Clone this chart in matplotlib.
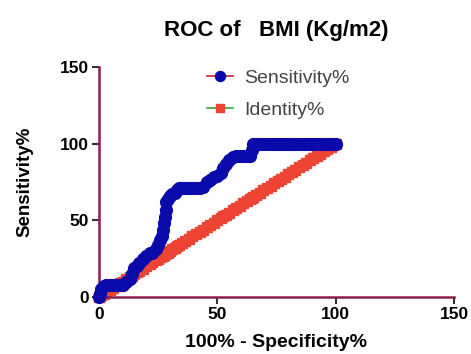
import matplotlib
matplotlib.use("Agg")
import matplotlib.pyplot as plt

plt.rcParams['font.family'] = ['Liberation Sans', 'DejaVu Sans']

# 100% - Specificity% and Sensitivity%
fpr = [0, 0.5, 1, 2, 3, 4.5, 6, 7.5, 9, 10, 11.5, 13, 14, 15, 16, 17, 18.5, 20, 21.5,
       22.5, 24, 25, 26, 26.5, 27, 27.5, 28, 28.5, 28.5, 29, 30, 31, 32, 33, 34,
       35, 36.5, 38, 39.5, 41, 42.5, 44, 45.5, 47, 48.5, 50, 51.5, 52.5, 53.5, 55,
       56.5, 58, 59.5, 61, 62.5, 64, 64.5, 65, 66.5, 68, 69.5, 71, 72.5, 74, 75.5,
       77, 78.5, 80, 81.5, 83, 84.5, 86, 87.5, 89, 90.5, 92, 93.5, 95, 96.5, 98,
       99, 100]
sens = [0, 2, 5, 7, 8, 8, 8, 8, 8, 8, 10, 12, 15, 19, 20, 22, 25, 27, 29,
        29, 31, 34, 37, 40, 44, 48, 52, 57, 62, 64, 66, 67, 68, 70, 71,
        71, 71, 71, 71, 71, 71, 72, 75, 76, 78, 79, 81, 84, 87, 89,
        91, 92, 92, 92, 92, 92, 96, 100, 100, 100, 100, 100, 100, 100, 100,
        100, 100, 100, 100, 100, 100, 100, 100, 100, 100, 100, 100, 100, 100, 100,
        100, 100]
identity = list(fpr)

xticks = [0, 50, 100, 150]
yticks = [0, 50, 100, 150]

fig = plt.figure(figsize=(4.71, 3.54), dpi=100)
ax = fig.add_axes([0.210, 0.161, 0.754, 0.650])

ax.plot(fpr, identity, color='#33aa33', lw=1.2, marker='s', ms=7.5,
        mfc='#ee4433', mec='#ee4433', label='Identity%', zorder=2)
ax.plot(fpr, sens, color='#cc2222', lw=1.2, marker='o', ms=8.5,
        mfc='#0a0aaa', mec='#0a0aaa', label='Sensitivity%', zorder=3)

ax.set_xlim(0, 150)
ax.set_ylim(0, 150)
ax.set_xticks(xticks)
ax.set_yticks(yticks)
for lbl in ax.get_xticklabels() + ax.get_yticklabels():
    lbl.set_fontweight('bold')
    lbl.set_fontsize(12.5)
ax.tick_params(direction='out', length=5, width=1.5, color='#333333', pad=2)

spine_col = '#8a1f50'
for s in ['top', 'right']:
    ax.spines[s].set_visible(False)
for s in ['left', 'bottom']:
    ax.spines[s].set_color(spine_col)
    ax.spines[s].set_linewidth(1.8)

for l in ax.lines:
    l.set_clip_on(False)

ax.set_xlabel('100% - Specificity%', fontsize=14, fontweight='bold', labelpad=9)
ax.set_ylabel('Sensitivity%', fontsize=13.5, fontweight='bold', labelpad=19)
ax.set_title('ROC of   BMI (Kg/m2)', fontsize=16, fontweight='bold', pad=22)

handles, labels = ax.get_legend_handles_labels()
leg = ax.legend(handles[::-1], labels[::-1], loc='upper left',
                bbox_to_anchor=(0.254, 1.065), frameon=False, fontsize=14,
                handlelength=1.35, handletextpad=0.6, labelspacing=0.75,
                markerscale=0.85)
for t in leg.get_texts():
    t.set_color('#444444')

fig.savefig('out.png', dpi=100)
